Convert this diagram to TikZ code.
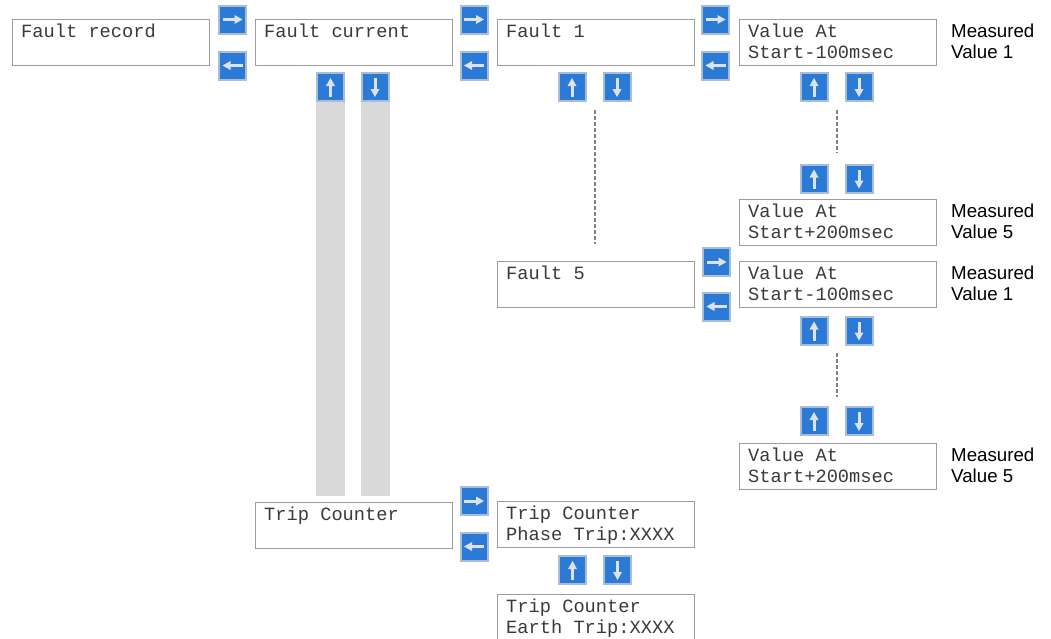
\documentclass[tikz,border=0pt]{standalone}
\usepackage{fontspec}
\newfontfamily\monof{Liberation Mono}
\newfontfamily\sansf{Liberation Sans}
\definecolor{btnblue}{HTML}{2B7AD6}
\definecolor{btnedge}{HTML}{A9BDD6}
\definecolor{arrowc}{HTML}{DDE2E8}
\definecolor{boxedge}{HTML}{9C9C9C}
\definecolor{barc}{HTML}{D9D9D9}
\definecolor{dashc}{HTML}{808080}
\definecolor{lcdtext}{HTML}{3A3A3A}
\tikzset{
  lcd/.style={draw=boxedge, line width=1.2pt, minimum width=197pt, minimum height=46pt, inner sep=0pt, anchor=north west, fill=white},
  lcdtxt/.style={anchor=north west, inner sep=0pt, align=left, font=\monof\fontsize{18.7}{21}\selectfont, text=lcdtext},
  meas/.style={anchor=north west, inner sep=0pt, align=left, font=\sansf\fontsize{18.7}{21}\selectfont, text=black},
  btn/.style={fill=btnblue, draw=btnedge, line width=2pt, minimum width=27pt, minimum height=28pt, inner sep=0pt},
  btnR/.style={btn, path picture={
    \fill[arrowc, shift={(path picture bounding box.center)}] (-10,-1.5) rectangle (3,1.5);
    \fill[arrowc, shift={(path picture bounding box.center)}] (2,-4.5) -- (10,0) -- (2,4.5) -- cycle;}},
  btnL/.style={btn, path picture={
    \fill[arrowc, shift={(path picture bounding box.center)}] (10,-1.5) rectangle (-3,1.5);
    \fill[arrowc, shift={(path picture bounding box.center)}] (-2,-4.5) -- (-10,0) -- (-2,4.5) -- cycle;}},
  btnU/.style={btn, path picture={
    \fill[arrowc, shift={(path picture bounding box.center)}] (-1.5,10) rectangle (1.5,-2);
    \fill[arrowc, shift={(path picture bounding box.center)}] (-4.5,-1) -- (0,-9) -- (4.5,-1) -- cycle;}},
  btnD/.style={btn, path picture={
    \fill[arrowc, shift={(path picture bounding box.center)}] (-1.5,-9) rectangle (1.5,3);
    \fill[arrowc, shift={(path picture bounding box.center)}] (-4.5,2) -- (0,10) -- (4.5,2) -- cycle;}},
  bar/.style={fill=barc, draw=none, inner sep=0pt, minimum width=29pt, minimum height=394pt, anchor=north},
  dashln/.style={draw=dashc, line width=1.5pt, dash pattern=on 4pt off 2pt}
}
\begin{document}
\begin{tikzpicture}[x=1pt,y=-1pt]
\useasboundingbox (0,0) rectangle (1051,638);
\clip (0,0) rectangle (1051,638);
% grey bars below Fault current
\node[bar] (barU) at (330.5,102) {};
\node[bar] (barD) at (375,102) {};
% boxes
\node[lcd] (fr) at (12,19) {};
\node[lcd] (fc) at (255,19) {};
\node[lcd] (f1) at (497,19) {};
\node[lcd] (v11) at (739,19) {};
\node[lcd] (v15) at (739,199) {};
\node[lcd] (f5) at (497,261) {};
\node[lcd] (v51) at (739,261) {};
\node[lcd] (v55) at (739,443) {};
\node[lcd] (tc) at (255,502) {};
\node[lcd] (tp) at (497,501) {};
\node[lcd] (te) at (497,594) {};
% box texts
\node[lcdtxt] (tfr) at ([shift={(9,3.3)}]fr.north west) {\strut Fault record};
\node[lcdtxt] (tfc) at ([shift={(9,3.3)}]fc.north west) {\strut Fault current};
\node[lcdtxt] (tf1) at ([shift={(9,3.3)}]f1.north west) {\strut Fault 1};
\node[lcdtxt] (tv11) at ([shift={(9,3.3)}]v11.north west) {\strut Value At\\Start-100msec};
\node[lcdtxt] (tv15) at ([shift={(9,3.3)}]v15.north west) {\strut Value At\\Start+200msec};
\node[lcdtxt] (tf5) at ([shift={(9,3.3)}]f5.north west) {\strut Fault 5};
\node[lcdtxt] (tv51) at ([shift={(9,3.3)}]v51.north west) {\strut Value At\\Start-100msec};
\node[lcdtxt] (tv55) at ([shift={(9,3.3)}]v55.north west) {\strut Value At\\Start+200msec};
\node[lcdtxt] (ttc) at ([shift={(9,3.3)}]tc.north west) {\strut Trip Counter};
\node[lcdtxt] (ttp) at ([shift={(9,3.3)}]tp.north west) {\strut Trip Counter\\Phase Trip:XXXX};
\node[lcdtxt] (tte) at ([shift={(9,3.3)}]te.north west) {\strut Trip Counter\\Earth Trip:XXXX};
% measured labels
\node[meas] (m11) at ([shift={(212,3.3)}]v11.north west) {\strut Measured\\Value 1};
\node[meas] (m15) at ([shift={(212,3.3)}]v15.north west) {\strut Measured\\Value 5};
\node[meas] (m51) at ([shift={(212,3.3)}]v51.north west) {\strut Measured\\Value 1};
\node[meas] (m55) at ([shift={(212,3.3)}]v55.north west) {\strut Measured\\Value 5};
% buttons
\node[btnR] (bAr) at (232.5,19.5) {};
\node[btnL] (bAl) at (232.5,65.5) {};
\node[btnR] (bBr) at (474,19.5) {};
\node[btnL] (bBl) at (474,65.5) {};
\node[btnR] (bCr) at (715.5,19.5) {};
\node[btnL] (bCl) at (715.5,65.5) {};
\node[btnU] (fcU) at (330.5,87) {};
\node[btnD] (fcD) at (375,87) {};
\node[btnU] (f1U) at (572,87) {};
\node[btnD] (f1D) at (617,87) {};
\node[btnU] (v1U) at (814,87) {};
\node[btnD] (v1D) at (859,87) {};
\node[btnU] (v2U) at (814,178.5) {};
\node[btnD] (v2D) at (859,178.5) {};
\node[btnR] (bDr) at (716.5,262) {};
\node[btnL] (bDl) at (716.5,306.5) {};
\node[btnU] (v3U) at (814,330.5) {};
\node[btnD] (v3D) at (859,330.5) {};
\node[btnU] (v4U) at (814,421) {};
\node[btnD] (v4D) at (859,421) {};
\node[btnR] (bEr) at (474,501) {};
\node[btnL] (bEl) at (474,546.5) {};
\node[btnU] (tpU) at (572.5,570) {};
\node[btnD] (tpD) at (617.5,570) {};
% dashed continuation lines
\coordinate (d1a) at (595,110);
\coordinate (d1b) at (595,244);
\coordinate (d2a) at (837,110);
\coordinate (d2b) at (837,153);
\coordinate (d3a) at (837,353);
\coordinate (d3b) at (837,397);
\draw[dashln] (d1a) -- (d1b);
\draw[dashln] (d2a) -- (d2b);
\draw[dashln] (d3a) -- (d3b);
\end{tikzpicture}
\end{document}
